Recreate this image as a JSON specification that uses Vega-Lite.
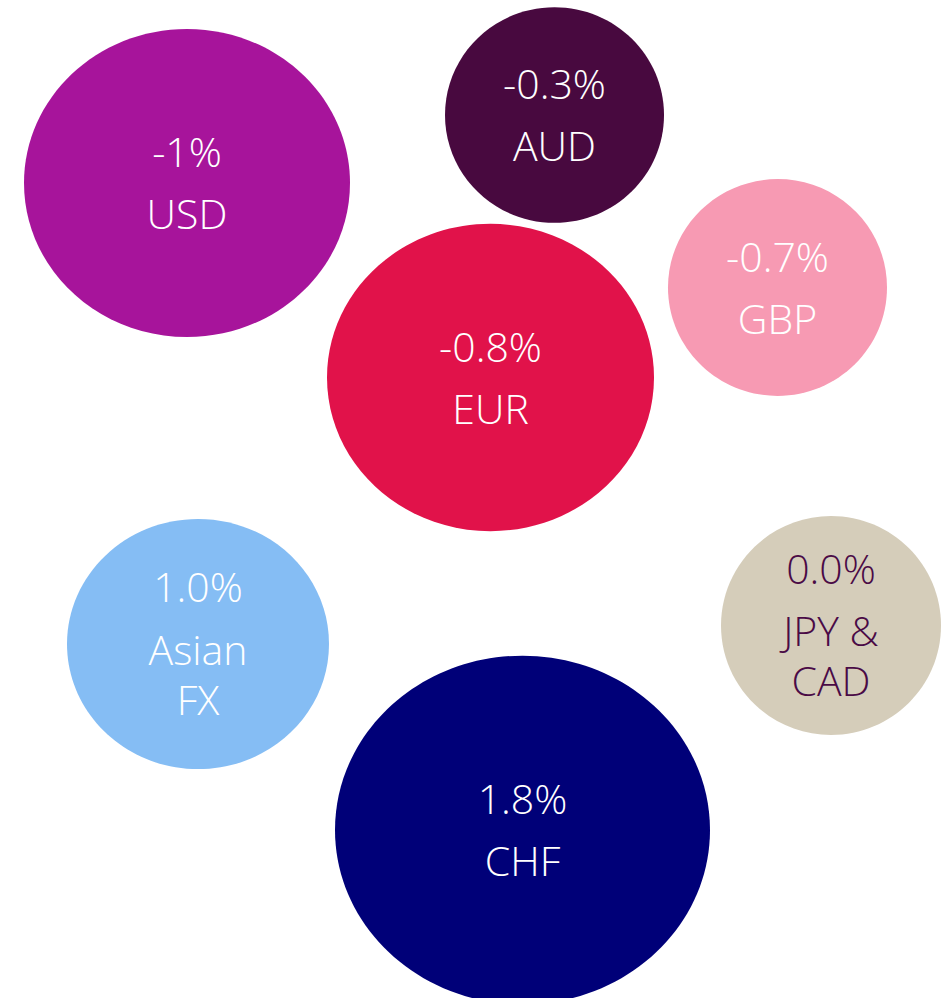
{
  "$schema": "https://vega.github.io/schema/vega-lite/v6.json",
  "width": 946,
  "height": 998,
  "autosize": "none",
  "padding": 0,
  "background": "white",
  "config": {"view": {"stroke": null}},
  "data": {
    "values": [
      {"currency": "USD", "x": 187, "y": 183, "diameter": 326, "change": "-1%", "name": "USD"},
      {"currency": "AUD", "x": 554.5, "y": 115, "diameter": 219, "change": "-0.3%", "name": "AUD"},
      {"currency": "GBP", "x": 777.5, "y": 287.5, "diameter": 219, "change": "-0.7%", "name": "GBP"},
      {"currency": "EUR", "x": 490.5, "y": 377.5, "diameter": 327, "change": "-0.8%", "name": "EUR"},
      {"currency": "Asian FX", "x": 198, "y": 644, "diameter": 262, "change": "1.0%", "name": "Asian\nFX"},
      {"currency": "JPY & CAD", "x": 831, "y": 625.5, "diameter": 220, "change": "0.0%", "name": "JPY &\nCAD"},
      {"currency": "CHF", "x": 522.5, "y": 830, "diameter": 375, "change": "1.8%", "name": "CHF"}
    ]
  },
  "encoding": {
    "x": {"field": "x", "type": "quantitative", "scale": {"domain": [0, 946], "nice": false, "zero": false}, "axis": null},
    "y": {"field": "y", "type": "quantitative", "scale": {"domain": [0, 998], "nice": false, "zero": false, "reverse": true}, "axis": null}
  },
  "layer": [
    {
      "mark": {"type": "point", "filled": true, "opacity": 1, "strokeWidth": 0, "clip": true},
      "encoding": {
        "size": {"field": "diameter", "type": "quantitative", "scale": {"type": "pow", "exponent": 2, "domain": [0, 400], "range": [0, 160000]}, "legend": null},
        "shape": {
          "field": "currency", "type": "nominal", "legend": null,
          "scale": {
            "domain": ["USD", "AUD", "GBP", "EUR", "Asian FX", "JPY & CAD", "CHF"],
            "range": [
              "M-1,0A1,0.945,0,1,0,1,0A1,0.945,0,1,0,-1,0Z",
              "M-1,0A1,0.985,0,1,0,1,0A1,0.985,0,1,0,-1,0Z",
              "M-1,0A1,0.99,0,1,0,1,0A1,0.99,0,1,0,-1,0Z",
              "M-1,0A1,0.94,0,1,0,1,0A1,0.94,0,1,0,-1,0Z",
              "M-1,0A1,0.955,0,1,0,1,0A1,0.955,0,1,0,-1,0Z",
              "M-1,0A1,0.995,0,1,0,1,0A1,0.995,0,1,0,-1,0Z",
              "M-1,0A1,0.93,0,1,0,1,0A1,0.93,0,1,0,-1,0Z"
            ]
          }
        },
        "color": {
          "field": "currency", "type": "nominal", "legend": null,
          "scale": {
            "domain": ["USD", "AUD", "GBP", "EUR", "Asian FX", "JPY & CAD", "CHF"],
            "range": ["#a7149b", "#48093f", "#f79ab3", "#e1124a", "#85bdf4", "#d5cdba", "#000078"]
          }
        }
      }
    },
    {
      "transform": [{"filter": "indexof(datum.name, '\\n') < 0"}],
      "mark": {"type": "text", "align": "center", "baseline": "alphabetic", "dy": -16, "font": "Open Sans", "fontSize": 41, "fontWeight": 300},
      "encoding": {
        "text": {"field": "change", "type": "nominal"},
        "color": {"condition": {"test": "datum.currency === 'JPY & CAD'", "value": "#4a0a46"}, "value": "#ffffff"}
      }
    },
    {
      "transform": [{"filter": "indexof(datum.name, '\\n') < 0"}],
      "mark": {"type": "text", "align": "center", "baseline": "alphabetic", "dy": 46, "font": "Open Sans", "fontSize": 41, "fontWeight": 300},
      "encoding": {
        "text": {"field": "name", "type": "nominal"},
        "color": {"condition": {"test": "datum.currency === 'JPY & CAD'", "value": "#4a0a46"}, "value": "#ffffff"}
      }
    },
    {
      "transform": [{"filter": "indexof(datum.name, '\\n') >= 0"}],
      "mark": {"type": "text", "align": "center", "baseline": "alphabetic", "dy": -42, "font": "Open Sans", "fontSize": 41, "fontWeight": 300},
      "encoding": {
        "text": {"field": "change", "type": "nominal"},
        "color": {"condition": {"test": "datum.currency === 'JPY & CAD'", "value": "#4a0a46"}, "value": "#ffffff"}
      }
    },
    {
      "transform": [{"filter": "indexof(datum.name, '\\n') >= 0"}],
      "mark": {"type": "text", "align": "center", "baseline": "alphabetic", "dy": 20.5, "lineBreak": "\n", "lineHeight": 50, "font": "Open Sans", "fontSize": 41, "fontWeight": 300},
      "encoding": {
        "text": {"field": "name", "type": "nominal"},
        "color": {"condition": {"test": "datum.currency === 'JPY & CAD'", "value": "#4a0a46"}, "value": "#ffffff"}
      }
    }
  ]
}
